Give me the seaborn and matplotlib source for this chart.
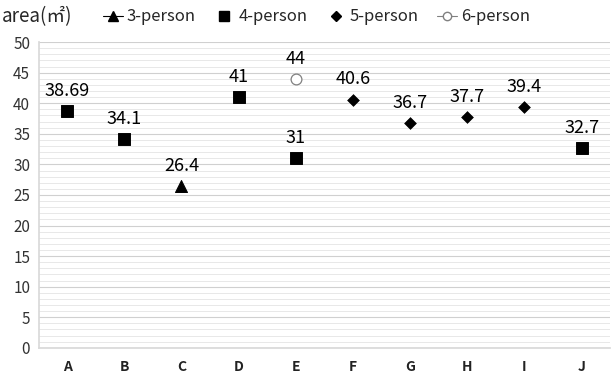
import matplotlib
matplotlib.use('Agg')
import matplotlib.pyplot as plt
from matplotlib.lines import Line2D
from matplotlib.ticker import MultipleLocator
import seaborn as sns
import pandas as pd

# 数据
categories = ['A', 'B', 'C', 'D', 'E', 'F', 'G', 'H', 'I', 'J']
point_cats = ['A', 'B', 'C', 'D', 'E', 'E', 'F', 'G', 'H', 'I', 'J']
point_vals = [38.69, 34.1, 26.4, 41, 31, 44, 40.6, 36.7, 37.7, 39.4, 32.7]
point_labels = ['38.69', '34.1', '26.4', '41', '31', '44', '40.6', '36.7', '37.7', '39.4', '32.7']
point_groups = ['4-person', '4-person', '3-person', '4-person', '4-person', '6-person',
                '5-person', '5-person', '5-person', '5-person', '4-person']
groups = ['3-person', '4-person', '5-person', '6-person']

sns.set_theme(style='white')
plt.rcParams['font.family'] = ['Noto Sans CJK KR', 'DejaVu Sans']

df = pd.DataFrame({'cat': point_cats, 'val': point_vals,
                   'label': point_labels, 'group': point_groups})
df['x'] = df['cat'].map({c: i for i, c in enumerate(categories)})

fig, ax = plt.subplots(figsize=(6.12, 3.76), dpi=100)
fig.subplots_adjust(left=0.063, right=0.997, top=0.888, bottom=0.075)

# 各组标记样式
styles = {
    '3-person': dict(marker='^', s=75, color='black', edgecolor='black'),
    '4-person': dict(marker='s', s=70, color='black', edgecolor='black'),
    '5-person': dict(marker='D', s=36, color='black', edgecolor='black'),
    '6-person': dict(marker='o', s=60, color='white', edgecolor='#808080', linewidth=0.9),
}
for g in groups:
    sub = df[df['group'] == g]
    sns.scatterplot(data=sub, x='x', y='val', ax=ax, legend=False, zorder=3, **styles[g])

for _, r in df.iterrows():
    ax.annotate(r['label'], (r['x'], r['val']), xytext=(0, 8), textcoords='offset points',
                ha='center', va='bottom', fontsize=13, color='black')

ax.set_xlim(-0.5, len(categories) - 0.5)
ax.set_ylim(0, 50)
ax.set_xticks(range(len(categories)))
ax.set_xticklabels(categories, fontsize=10, fontweight='bold', color='#222222')
ax.yaxis.set_major_locator(MultipleLocator(5))
ax.yaxis.set_minor_locator(MultipleLocator(1))
ax.tick_params(axis='y', labelsize=11, colors='#333333', length=0, pad=6)
ax.tick_params(axis='x', length=0, pad=9)
ax.grid(True, axis='y', which='major', color='#d0d0d0', linewidth=0.8)
ax.grid(True, axis='y', which='minor', color='#e8e8e8', linewidth=0.7)
ax.set_axisbelow(True)
ax.set_xlabel('')
ax.set_ylabel('')
for side in ['top', 'right']:
    ax.spines[side].set_visible(False)
ax.spines['left'].set_color('#d9d9d9')
ax.spines['bottom'].set_color('#d9d9d9')

# 图例
handles = [
    Line2D([0], [0], color='black', lw=0.8, marker='^', markersize=7),
    Line2D([0], [0], color='none', marker='s', markerfacecolor='black',
           markeredgecolor='black', markersize=7),
    Line2D([0], [0], color='none', marker='D', markerfacecolor='black',
           markeredgecolor='black', markersize=5),
    Line2D([0], [0], color='#808080', lw=0.8, marker='o', markerfacecolor='white',
           markeredgecolor='#808080', markersize=6),
]
fig.text(0.003, 0.955, 'area(㎡)', fontsize=13.5, va='center', ha='left')
fig.legend(handles, groups, loc='center left', bbox_to_anchor=(0.168, 0.955), ncol=4,
           frameon=False, fontsize=12, handlelength=1.2, handletextpad=0.25,
           columnspacing=1.1, borderaxespad=0, borderpad=0)

fig.savefig('out.png', dpi=100)
